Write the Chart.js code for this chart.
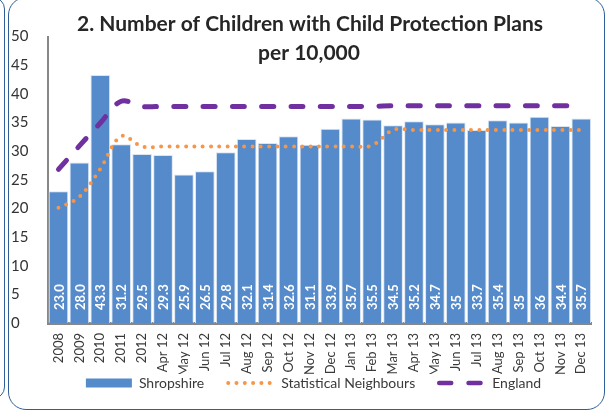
<!DOCTYPE html>
<html>
<head>
<meta charset="utf-8">
<script src="https://cdn.jsdelivr.net/npm/chart.js@4"></script>
<style>
  html, body { margin: 0; padding: 0; background: #ffffff; overflow: hidden; }
  #wrap { position: relative; width: 607px; height: 413px; }
  #chart { display: block; }
  .frame { position: absolute; pointer-events: none; box-sizing: border-box; }
  #outerFrame { left: -100px; top: -3px; width: 105px; height: 402px; border: 1.5px solid #2f5f98; border-radius: 12px; }
  #mainFrame { left: 8px; top: -3px; width: 597px; height: 413px; border: 1.5px solid #2f5f98; border-radius: 18px; }
</style>
</head>
<body>
<div id="wrap">
  <canvas id="chart" width="607" height="413"></canvas>
  <div class="frame" id="outerFrame"></div>
  <div class="frame" id="mainFrame"></div>
</div>
<script>
const titleLines = ['2. Number of Children with Child Protection Plans', 'per 10,000'];

const categories = ['2008', '2009', '2010', '2011', '2012', 'Apr 12', 'May 12', 'Jun 12', 'Jul 12',
    'Aug 12', 'Sep 12', 'Oct 12', 'Nov 12', 'Dec 12', 'Jan 13', 'Feb 13', 'Mar 13', 'Apr 13',
    'May 13', 'Jun 13', 'Jul 13', 'Aug 13', 'Sep 13', 'Oct 13', 'Nov 13', 'Dec 13'];

const shropshire = [23.0, 28.0, 43.3, 31.2, 29.5, 29.3, 25.9, 26.5, 29.8, 32.1, 31.4, 32.6, 31.1,
    33.9, 35.7, 35.5, 34.5, 35.2, 34.7, 35, 33.7, 35.4, 35, 36, 34.4, 35.7];
const shropshireLabels = ['23.0', '28.0', '43.3', '31.2', '29.5', '29.3', '25.9', '26.5', '29.8',
    '32.1', '31.4', '32.6', '31.1', '33.9', '35.7', '35.5', '34.5', '35.2', '34.7', '35', '33.7',
    '35.4', '35', '36', '34.4', '35.7'];

const statNeighbours = [20.1, 22.0, 26.9, 32.6, 30.8, 30.8, 30.8, 30.8, 30.8, 30.8, 30.8, 30.8, 30.8,
    30.8, 30.8, 31.0, 33.7, 33.7, 33.7, 33.7, 33.7, 33.7, 33.7, 33.7, 33.7, 33.7];

const england = [26.8, 30.9, 34.9, 38.7, 37.8, 37.8, 37.8, 37.8, 37.8, 37.8, 37.8, 37.8, 37.8,
    37.8, 37.8, 37.8, 37.9, 37.9, 37.9, 37.9, 37.9, 37.9, 37.9, 37.9, 37.9, 37.9];

const yTicks = [0, 5, 10, 15, 20, 25, 30, 35, 40, 45, 50];

const textColor = '#3a3a3a';

// two line title drawn over the plot, like the original
const titlePlugin = {
    id: 'twoLineTitle',
    afterDraw(chart) {
        const ctx = chart.ctx;
        ctx.save();
        ctx.font = 'bold 21px Lato';
        ctx.fillStyle = '#262626';
        ctx.textAlign = 'center';
        ctx.textBaseline = 'middle';
        ctx.fillText(titleLines[0], 310, 24);
        ctx.fillText(titleLines[1], 309, 53);
        ctx.restore();
    }
};

// white vertical value labels at the foot of each bar
const barLabelPlugin = {
    id: 'barLabels',
    afterDatasetsDraw(chart) {
        const meta = chart.getDatasetMeta(0);
        const ctx = chart.ctx;
        ctx.save();
        ctx.font = 'bold 13px Lato';
        ctx.fillStyle = '#ffffff';
        ctx.textAlign = 'left';
        ctx.textBaseline = 'middle';
        meta.data.forEach(function(bar, i) {
            ctx.save();
            ctx.translate(bar.x + 1, bar.base - 13);
            ctx.rotate(-Math.PI / 2);
            ctx.fillText(shropshireLabels[i], 0, 0);
            ctx.restore();
        });
        ctx.restore();
    }
};

// legend sits closer under the rotated month labels than chart.js would put it
const legendNudge = {
    id: 'legendNudge',
    afterLayout(chart) {
        chart.legend.top -= 22;
        chart.legend.bottom -= 22;
        chart.legend.left += 8;
        chart.legend.right += 8;
    }
};

const ctx = document.getElementById('chart').getContext('2d');

new Chart(ctx, {
    type: 'bar',
    data: {
        labels: categories,
        datasets: [{
            type: 'bar',
            label: 'Shropshire',
            data: shropshire,
            backgroundColor: '#558acb',
            borderColor: '#dbe5f2',
            borderWidth: 1,
            barPercentage: 0.94,
            categoryPercentage: 1.0,
            order: 2
        }, {
            type: 'line',
            label: 'Statistical Neighbours',
            data: statNeighbours,
            borderColor: '#f79646',
            backgroundColor: '#f79646',
            borderWidth: 4,
            borderDash: [0, 8.3],
            borderCapStyle: 'round',
            pointRadius: 0,
            tension: 0.35,
            fill: false,
            order: 1
        }, {
            type: 'line',
            label: 'England',
            data: england,
            borderColor: '#7030a0',
            backgroundColor: '#7030a0',
            borderWidth: 5,
            borderDash: [12, 17.3],
            borderCapStyle: 'round',
            pointRadius: 0,
            tension: 0.35,
            fill: false,
            order: 0
        }]
    },
    options: {
        responsive: false,
        animation: false,
        devicePixelRatio: 1,
        layout: {
            padding: { top: 36.5, left: 11, right: 7, bottom: 0 }
        },
        scales: {
            x: {
                grid: { display: false, drawTicks: false },
                border: { display: true, color: '#878787', width: 3 },
                ticks: {
                    autoSkip: false,
                    maxRotation: 90,
                    minRotation: 90,
                    padding: 10,
                    color: textColor,
                    font: { family: 'Lato', size: 13 }
                },
                afterFit: function(scale) { scale.height = 51; }
            },
            y: {
                min: 0,
                max: 50,
                grid: { display: false, drawTicks: false },
                border: { display: true, color: '#878787', width: 2 },
                afterBuildTicks: function(scale) {
                    scale.ticks = yTicks.map(function(v) { return { value: v }; });
                },
                ticks: {
                    crossAlign: 'far',
                    color: '#333333',
                    font: { family: 'Lato', size: 15 }
                },
                afterFit: function(scale) { scale.width = 37; }
            }
        },
        plugins: {
            title: { display: false },
            tooltip: { enabled: false },
            legend: {
                display: true,
                position: 'bottom',
                maxHeight: 39,
                labels: {
                    usePointStyle: true,
                    pointStyleWidth: 46,
                    boxHeight: 9,
                    padding: 24,
                    color: textColor,
                    font: { family: 'Lato', size: 14 },
                    generateLabels: function(chart) {
                        return chart.data.datasets.map(function(ds, i) {
                            const isBar = ds.type === 'bar';
                            return {
                                text: ds.label,
                                datasetIndex: i,
                                pointStyle: isBar ? 'rect' : 'line',
                                fillStyle: ds.backgroundColor,
                                strokeStyle: isBar ? ds.backgroundColor : ds.borderColor,
                                lineWidth: isBar ? 0 : (i === 2 ? 4.5 : ds.borderWidth),
                                lineDash: ds.borderDash || [],
                                lineCap: ds.borderCapStyle || 'butt',
                                fontColor: textColor,
                                hidden: false
                            };
                        });
                    }
                }
            }
        }
    },
    plugins: [barLabelPlugin, titlePlugin, legendNudge]
});
</script>
</body>
</html>
